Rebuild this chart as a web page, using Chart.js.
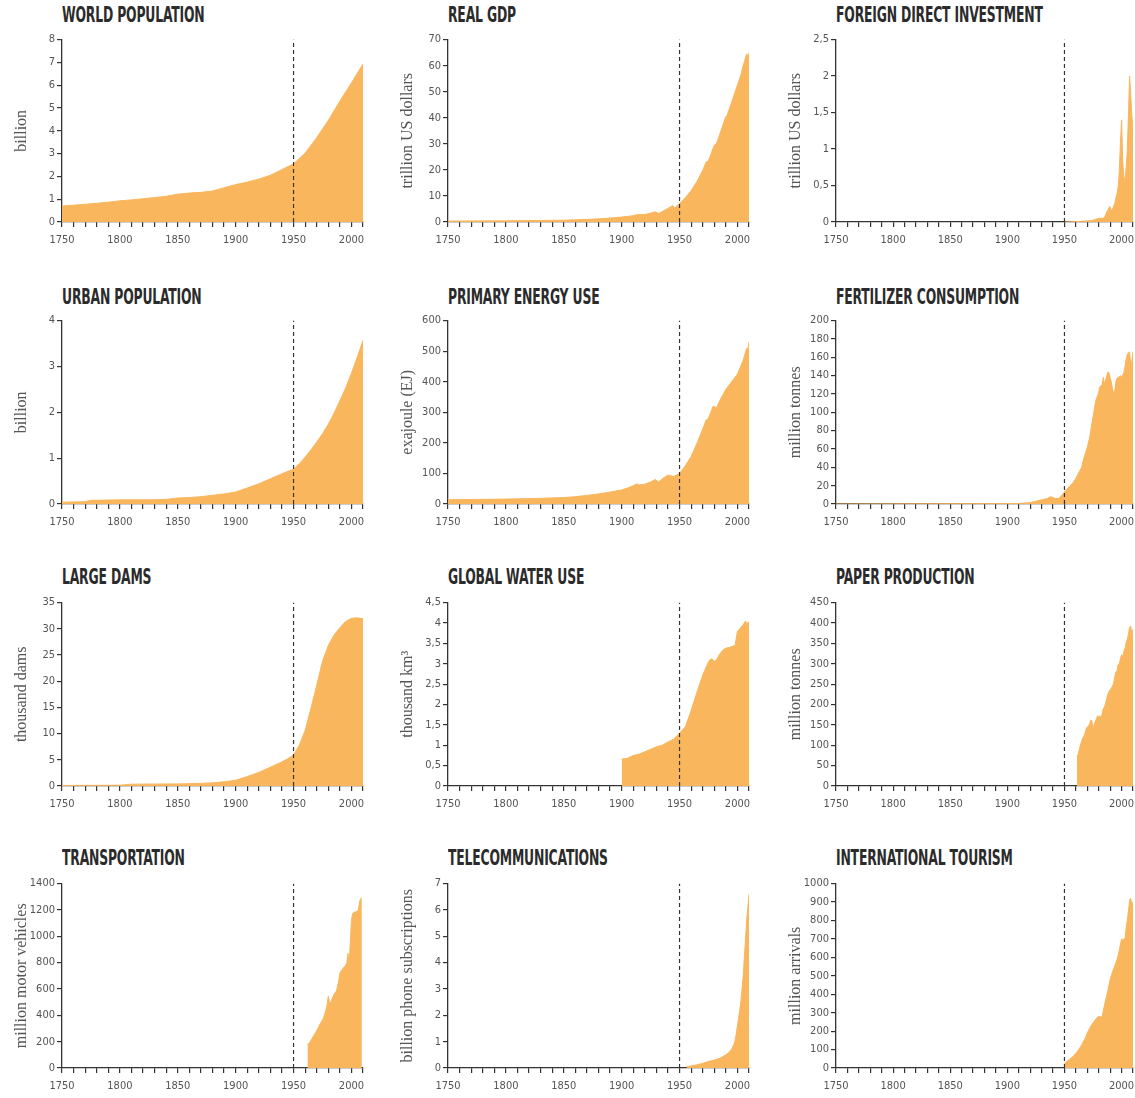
<!DOCTYPE html>
<html><head><meta charset="utf-8">
<script src="https://cdn.jsdelivr.net/npm/chart.js@4.4.1/dist/chart.umd.min.js"></script>
<style>
html,body{margin:0;padding:0;background:#fff;width:1135px;height:1098px;overflow:hidden;position:relative;}
.ttl{position:absolute;font-family:'Liberation Sans Narrow','DejaVu Sans Condensed','Arial Narrow',sans-serif;font-weight:bold;font-size:16px;color:#2b2b2b;letter-spacing:-0.2px;transform:scale(0.86,1.35);transform-origin:left center;white-space:nowrap;line-height:20px;}
canvas{position:absolute;}
</style></head><body>
<script>
// ---------- DATA ----------
const panelTitles = ['WORLD POPULATION','REAL GDP','FOREIGN DIRECT INVESTMENT',
  'URBAN POPULATION','PRIMARY ENERGY USE','FERTILIZER CONSUMPTION',
  'LARGE DAMS','GLOBAL WATER USE','PAPER PRODUCTION',
  'TRANSPORTATION','TELECOMMUNICATIONS','INTERNATIONAL TOURISM'];
const unitLabels = ['billion','trillion US dollars','trillion US dollars',
  'billion','exajoule (EJ)','million tonnes',
  'thousand dams','thousand km³','million tonnes',
  'million motor vehicles','billion phone subscriptions','million arrivals'];
const yMaxValues = [8,70,2.5, 4,600,200, 35,4.5,450, 1400,7,1000];
const yStepValues = [1,10,0.5, 1,100,20, 5,0.5,50, 200,1,100];
const xStart = 1750, xEnd = 2010, xMinorStep = 10, xLabelStep = 50;
const markerYear = 1950;

const popYears = [1750,1760,1770,1780,1790,1800,1810,1820,1830,1840,1850,1860,1870,1880,1890,1900,1910,1920,1930,1940,1950,1960,1970,1980,1990,2000,2010];
const popValues = [0.70,0.74,0.78,0.82,0.87,0.93,0.97,1.02,1.07,1.13,1.22,1.27,1.30,1.36,1.50,1.64,1.75,1.88,2.05,2.30,2.55,3.02,3.70,4.45,5.30,6.10,6.93];

const gdpYears = [1750,1800,1820,1850,1870,1880,1890,1900,1910,1913,1920,1925,1929,1932,1935,1940,1944,1946,1950,1955,1960,1965,1970,1973,1975,1980,1982,1985,1990,1991,1995,2000,2003,2005,2008,2009,2010];
const gdpValues = [0.35,0.45,0.55,0.7,1.0,1.2,1.5,1.9,2.4,2.8,2.9,3.4,3.9,3.3,4.0,5.2,6.3,5.3,7.1,9.3,12.0,15.5,19.8,23.0,23.5,29.5,30.2,34.0,40.5,40.8,46.0,52.5,56.5,60.0,64.5,63.5,65.0];

const fdiYears = [1950,1960,1970,1975,1980,1983,1985,1987,1988,1989,1990,1991,1992,1993,1994,1995,1996,1997,1998,1999,2000,2001,2002,2003,2004,2005,2006,2007,2008,2009,2010];
const fdiValues = [0,0.005,0.015,0.025,0.05,0.05,0.06,0.14,0.16,0.2,0.21,0.16,0.17,0.22,0.25,0.33,0.39,0.48,0.69,1.08,1.4,0.83,0.62,0.56,0.74,0.98,1.46,2.0,1.75,1.45,1.3];

const urbanYears = [1750,1770,1775,1800,1825,1840,1850,1860,1870,1880,1890,1900,1910,1920,1930,1940,1950,1955,1960,1965,1970,1975,1980,1985,1990,1995,2000,2005,2010];
const urbanValues = [0.04,0.05,0.08,0.09,0.09,0.10,0.13,0.14,0.16,0.19,0.22,0.26,0.35,0.44,0.55,0.66,0.76,0.88,1.02,1.18,1.35,1.53,1.74,1.98,2.25,2.53,2.85,3.20,3.57];

const energyYears = [1750,1775,1800,1825,1850,1860,1870,1880,1890,1900,1905,1910,1913,1915,1920,1925,1929,1932,1935,1940,1945,1950,1955,1960,1965,1970,1973,1975,1979,1982,1985,1990,1995,2000,2005,2008,2009,2010];
const energyValues = [14,15,16,18,21,24,28,33,39,46,52,60,66,62,65,72,80,72,82,95,90,100,125,155,198,245,275,280,320,315,340,375,400,425,470,510,505,530];

const fertYears = [1750,1910,1920,1925,1930,1935,1938,1942,1945,1948,1950,1952,1955,1958,1960,1962,1965,1967,1970,1972,1974,1975,1977,1978,1979,1980,1981,1983,1984,1985,1986,1988,1989,1990,1991,1992,1993,1994,1995,1996,1997,1998,1999,2000,2001,2002,2003,2004,2005,2006,2007,2008,2009,2010];
const fertValues = [0,0.5,1.5,3,4.5,6,8,6,6,10,13,16,20,24,28,33,40,50,62,72,88,95,110,115,118,122,128,130,138,131,135,144,143,138,133,126,121,123,133,137,138,139,140,138,141,143,150,158,163,165,166,152,156,166];

const damYears = [1750,1800,1810,1850,1870,1880,1890,1900,1910,1920,1930,1940,1945,1950,1955,1960,1965,1970,1975,1980,1985,1990,1995,2000,2005,2010];
const damValues = [0.1,0.15,0.35,0.4,0.5,0.6,0.8,1.1,1.8,2.6,3.6,4.6,5.2,5.9,7.8,10.6,14.8,19.2,23.8,26.8,28.8,30.2,31.4,32.0,32.1,31.9];

const waterYears = [1900,1905,1910,1915,1920,1925,1930,1935,1940,1945,1950,1955,1960,1965,1970,1975,1977,1979,1980,1982,1985,1988,1990,1993,1995,1998,2000,2002,2003,2005,2007,2008,2010];
const waterValues = [0.66,0.68,0.75,0.78,0.84,0.9,0.96,1.0,1.08,1.15,1.3,1.45,1.85,2.3,2.72,3.05,3.12,3.1,3.05,3.1,3.25,3.35,3.38,3.4,3.42,3.45,3.8,3.85,3.9,3.95,4.05,3.98,4.03];

const paperYears = [1961,1962,1963,1964,1965,1966,1967,1968,1969,1970,1971,1972,1973,1974,1975,1976,1977,1978,1979,1980,1981,1982,1983,1984,1985,1986,1987,1988,1989,1990,1991,1992,1993,1994,1995,1996,1997,1998,1999,2000,2001,2002,2003,2004,2005,2006,2007,2008,2009,2010];
const paperValues = [72,78,90,100,110,118,122,130,140,145,147,152,162,160,138,152,158,165,172,170,172,168,178,190,194,203,215,225,232,236,240,245,252,268,280,283,298,300,312,322,318,330,338,352,360,372,390,392,373,385];

const transportYears = [1962,1963,1964,1965,1966,1967,1968,1969,1970,1971,1972,1973,1974,1975,1976,1977,1978,1979,1980,1981,1982,1983,1984,1985,1986,1987,1988,1989,1990,1991,1992,1993,1994,1995,1996,1997,1998,1999,2000,2001,2002,2003,2004,2005,2006,2007,2008,2009];
const transportValues = [175,185,195,210,225,240,255,270,285,300,318,335,350,365,385,410,440,480,545,500,495,520,540,560,570,585,620,660,720,735,745,760,770,780,800,870,780,950,1120,1170,1180,1185,1185,1190,1200,1260,1285,1290];

const telecomYears = [1956,1960,1965,1970,1975,1980,1985,1990,1993,1995,1997,1998,1999,2000,2001,2002,2003,2004,2005,2006,2007,2008,2009,2010];
const telecomValues = [0.05,0.08,0.12,0.18,0.25,0.3,0.37,0.5,0.6,0.72,0.9,1.05,1.3,1.6,1.9,2.2,2.55,3.0,3.5,4.2,4.9,5.6,6.1,6.6];

const tourismYears = [1950,1952,1955,1958,1960,1962,1965,1968,1970,1972,1975,1978,1980,1982,1983,1985,1988,1990,1992,1995,1997,1998,1999,2000,2001,2002,2003,2004,2005,2006,2007,2008,2009,2010];
const tourismValues = [25,35,50,65,80,95,125,160,190,215,245,270,280,276,280,340,420,480,520,570,610,640,670,700,695,700,700,760,800,850,910,920,885,900];

const seriesYears = [popYears,gdpYears,fdiYears,urbanYears,energyYears,fertYears,damYears,waterYears,paperYears,transportYears,telecomYears,tourismYears];
const seriesValues = [popValues,gdpValues,fdiValues,urbanValues,energyValues,fertValues,damValues,waterValues,paperValues,transportValues,telecomValues,tourismValues];

// ---------- LAYOUT / STYLE ----------
const colLeft = [62, 448, 836];
const colRight = [363, 749, 1133];
const PAD_RIGHT = 8;
const rowTop = [39, 320, 602, 883];
const rowBottom = [222, 504, 786, 1068];
const titleCenterY = [15, 297, 577, 858];
const Y_BOX = 50, X_BOX = 30, PAD_TOP = 8;
const FILL = '#F9B65D';
const INK = '#333';
const tickFont = {family:"'Liberation Sans Narrow','DejaVu Sans Condensed','Arial Narrow',sans-serif", size:11};

Chart.defaults.animation = false;

for (let i = 0; i < 12; i++) {
  const col = i % 3, row = Math.floor(i / 3);
  const L = colLeft[col], R = colRight[col], T = rowTop[row], B = rowBottom[row];

  const t = document.createElement('div');
  t.className = 'ttl';
  t.textContent = panelTitles[i];
  t.style.left = L + 'px';
  t.style.top = (titleCenterY[row] - 10) + 'px';
  document.body.appendChild(t);

  const cv = document.createElement('canvas');
  const w = Y_BOX + (R - L) + PAD_RIGHT;
  const h = PAD_TOP + (B - T) + X_BOX;
  cv.width = w; cv.height = h;
  cv.style.width = w + 'px'; cv.style.height = h + 'px';
  cv.style.left = (L - Y_BOX) + 'px';
  cv.style.top = (T - PAD_TOP) + 'px';
  document.body.appendChild(cv);

  const pts = seriesYears[i].map((yr, k) => ({x: yr, y: seriesValues[i][k]}));
  const ymax = yMaxValues[i];

  new Chart(cv, {
    type: 'line',
    data: {
      datasets: [
        {data: [{x: markerYear, y: 0}, {x: markerYear, y: ymax}], borderColor: INK, borderWidth: 1.2,
         borderDash: [4, 3], pointRadius: 0, fill: false, order: 0},
        {data: pts, borderColor: FILL, backgroundColor: FILL, borderWidth: 1, pointRadius: 0,
         fill: 'origin', tension: 0, order: 1}
      ]
    },
    options: {
      responsive: false, devicePixelRatio: 1, animation: false,
      layout: {padding: {top: PAD_TOP, right: PAD_RIGHT, left: 0, bottom: 0}},
      plugins: {legend: {display: false}, tooltip: {enabled: false}},
      scales: {
        x: {
          type: 'linear', min: xStart, max: xEnd,
          afterFit: s => { s.height = X_BOX; },
          border: {display: true, color: INK, width: 1.3},
          grid: {drawOnChartArea: false, drawTicks: true, tickLength: 5, color: INK, lineWidth: 1.2},
          ticks: {stepSize: xMinorStep, autoSkip: false, maxRotation: 0, minRotation: 0, padding: 7,
                  color: '#555', font: tickFont,
                  callback: v => (v % xLabelStep === 0 ? String(v) : '')}
        },
        y: {
          type: 'linear', min: 0, max: ymax,
          afterFit: s => { s.width = Y_BOX; },
          border: {display: true, color: INK, width: 1.3},
          grid: {drawOnChartArea: false, drawTicks: true, tickLength: 5, color: INK, lineWidth: 1.2},
          ticks: {stepSize: yStepValues[i], padding: 2, color: '#555', font: tickFont,
                  callback: v => String(Math.round(v * 100) / 100).replace('.', ',')},
          title: {display: true, text: unitLabels[i], color: '#555', padding: 0,
                  font: {family: "'Liberation Serif','Times New Roman',serif", size: 16}}
        }
      }
    }
  });
}
</script>
</body></html>
